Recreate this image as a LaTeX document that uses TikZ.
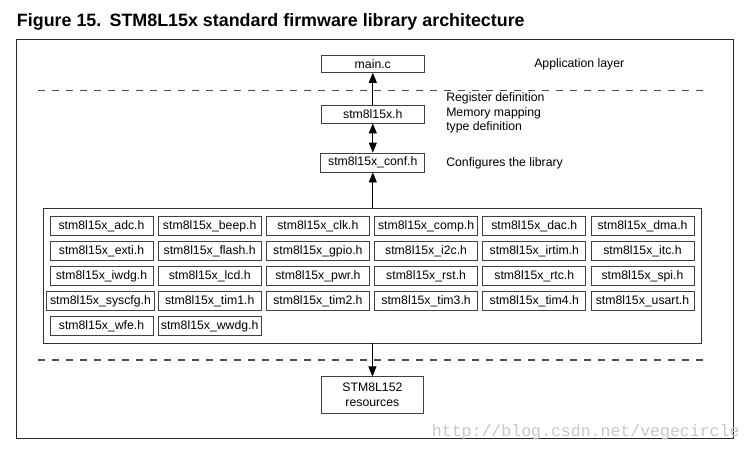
\documentclass[tikz,border=0pt]{standalone}
\usepackage{fontspec}
\setmainfont{Liberation Sans}
\newfontfamily\wmfont{Liberation Mono}
\usetikzlibrary{arrows.meta}
\begin{document}
\begin{tikzpicture}[x=0.75pt,y=-0.75pt,
  txt/.style={font=\fontsize{9.2}{11}\selectfont, inner sep=0pt},
  box/.style={txt, draw=black!75, line width=0.6pt, fill=white},
  topbox/.style={box, minimum width=77pt, minimum height=13.5pt},
  libbox/.style={box, minimum width=77.2pt, minimum height=14.25pt},
  arr/.style={line width=0.6pt, -{Triangle[width=6pt,length=7.5pt]}},
  darr/.style={line width=0.6pt, {Triangle[width=6pt,length=7.5pt]}-{Triangle[width=6pt,length=7.5pt]}},
  sepline/.style={line width=0.9pt, black!70, dash pattern=on 5.5pt off 5pt},
  lbl/.style={txt, anchor=west}]
\useasboundingbox (0,0) rectangle (752,451);
% title
\node[anchor=base west, inner sep=0pt, font=\bfseries\fontsize{13.4}{16}\selectfont] (title) at (16.7,26.7)
  {\makebox[69.5pt][l]{Figure 15.}STM8L15x standard firmware library architecture};
% outer frame
\draw[line width=0.75pt, black!85] (16.7,39) rectangle (733,438.5);
% separators
\coordinate (s1a) at (38,90.7); \coordinate (s1b) at (707,90.7);
\coordinate (s2a) at (38,360); \coordinate (s2b) at (707,360);
\draw[sepline] (s1a) -- (s1b);
\draw[sepline] (s2a) -- (s2b);
% top boxes
\node[topbox, minimum height=13pt] (main) at (372.8,63.7) {main.c};
\node[topbox] (hdr) at (372.8,114) {stm8l15x.h};
\node[box, minimum width=78pt, minimum height=14.25pt] (conf) at (372.8,162.5) {stm8l15x\_conf.h};
% labels
\node[lbl] (app) at (534,64) {Application layer};
\node[lbl] (reg) at (446,98.5) {Register definition};
\node[lbl] (mem) at (446,113) {Memory mapping};
\node[lbl] (typ) at (446,127.5) {type definition};
\node[lbl] (cfg) at (446,163) {Configures the library};
% library box
\node[draw=black!80, line width=0.7pt, minimum width=493.5pt, minimum height=101.25pt, inner sep=0pt] (lib) at (372,275.5) {};
% grid
\foreach \name/\i/\j in {adc/0/0, beep/1/0, clk/2/0, comp/3/0, dac/4/0, dma/5/0,
  exti/0/1, flash/1/1, gpio/2/1, i2c/3/1, irtim/4/1, itc/5/1,
  iwdg/0/2, lcd/1/2, pwr/2/2, rst/3/2, rtc/4/2, spi/5/2,
  tim1/1/3, tim2/2/3, tim3/3/3, tim4/4/3, usart/5/3,
  wfe/0/4, wwdg/1/4}
  \node[libbox] (\name) at ({101.5+108.2*\i},{226.2+25*\j}) {stm8l15x\_\name.h};
\node[libbox, minimum width=80.6pt] (syscfg) at (100.5,301.2) {stm8l15x\_syscfg.h};
% resources
\node[box, minimum width=76pt, minimum height=27.2pt, align=center, font=\fontsize{9.2}{11.25}\selectfont] (res) at (372.4,394.9) {STM8L152\\resources};
% arrows
\draw[arr] (hdr) -- (main);
\draw[darr] (hdr) -- (conf);
\draw[arr] (lib.north -| conf.south) -- (conf);
\draw[arr] (lib.south -| res.north) -- (res);
% watermark
\node[anchor=base west, inner sep=0pt, text=black!22, font=\wmfont\fontsize{12.4}{14}\selectfont] (wm) at (431.7,436) {http://blog.csdn.net/vegecircle};
\end{tikzpicture}
\end{document}
